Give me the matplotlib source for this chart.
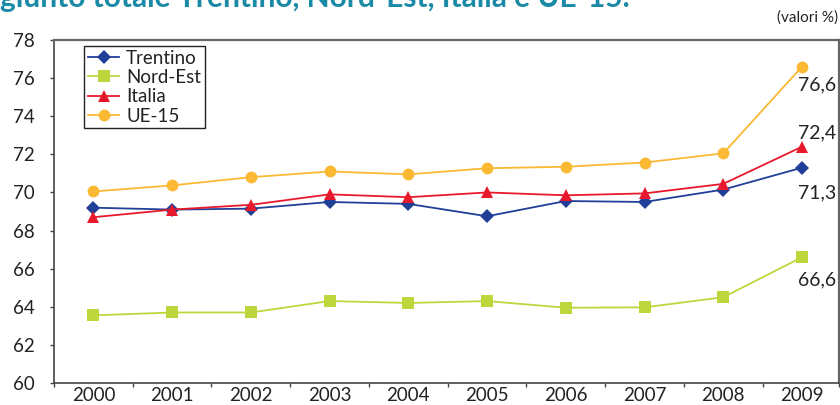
import matplotlib
matplotlib.use("Agg")
import matplotlib.pyplot as plt
import numpy as np

# Tasso di occupazione 2000-2009 (valori %)
years = ["2000", "2001", "2002", "2003", "2004", "2005", "2006", "2007", "2008", "2009"]
trentino = [69.2, 69.1, 69.15, 69.5, 69.4, 68.75, 69.55, 69.5, 70.15, 71.3]
nord_est = [63.55, 63.7, 63.7, 64.3, 64.2, 64.3, 63.95, 63.97, 64.5, 66.6]
italia = [68.7, 69.1, 69.35, 69.9, 69.75, 70.0, 69.85, 69.95, 70.45, 72.4]
ue15 = [70.05, 70.37, 70.8, 71.1, 70.95, 71.27, 71.35, 71.57, 72.05, 76.6]
y_ticks = [60, 62, 64, 66, 68, 70, 72, 74, 76, 78]

series = [
    ("Trentino", trentino, "#223f98", "D", 7.0, -18),
    ("Nord-Est", nord_est, "#bdd63c", "s", 8.0, -16),
    ("Italia", italia, "#e8192c", "^", 8.5, 10),
    ("UE-15", ue15, "#fbb833", "o", 8.5, -13),
]

FONT = ["Lato", "DejaVu Sans"]
TXT = "#222222"

fig = plt.figure(figsize=(8.4, 4.05), dpi=100)
ax = fig.add_axes([54 / 840, 1 - 383 / 405, 785 / 840, 343 / 405])

x = np.arange(len(years))
for name, vals, color, marker, ms, dy in series:
    ax.plot(x, vals, color=color, lw=1.3, marker=marker, ms=ms,
            markeredgewidth=0, label=name, zorder=3)
    ax.annotate(f"{vals[-1]:.1f}".replace(".", ","), (x[-1], vals[-1]),
                xytext=(-3, dy), textcoords="offset points",
                ha="left", va="center", fontsize=14, family=FONT, color=TXT)

ax.set_xlim(-0.5, 9.47)
ax.set_ylim(60, 78)
ax.set_yticks(y_ticks)
ax.set_yticklabels([str(v) for v in y_ticks], family=FONT, fontsize=13.5, color=TXT)

# year labels centred on categories, tick marks on the boundaries
ax.set_xticks(x)
ax.set_xticklabels(years, family=FONT, fontsize=13.5, color=TXT)
ax.tick_params(axis="x", which="major", length=0, pad=3)
ax.set_xticks(list(np.arange(-0.5, 9.0, 1.0)) + [9.47], minor=True)
ax.tick_params(axis="x", which="minor", length=3, width=1, color="#444444", direction="out")
ax.tick_params(axis="y", length=3, width=1, color="#444444", direction="out", pad=11)

for side in ["left", "bottom"]:
    ax.spines[side].set_color("#444444")
    ax.spines[side].set_linewidth(1.2)
for side in ["top", "right"]:
    ax.spines[side].set_color("#666666")
    ax.spines[side].set_linewidth(1.6)

leg = ax.legend(loc="upper left", bbox_to_anchor=(0.038, 0.9825), borderaxespad=0,
                fancybox=False, edgecolor="#222222", framealpha=1,
                prop={"family": FONT, "size": 13.5}, handlelength=1.7,
                handletextpad=0.35, labelspacing=0.12, borderpad=0.2)
leg.get_frame().set_linewidth(1.0)
for t in leg.get_texts():
    t.set_color(TXT)

fig.text(0.0, 1 - 7 / 405, "giunto totale Trentino, Nord-Est, Italia e UE-15.",
         family=FONT, fontweight="bold", fontsize=21.5, color="#1a8aa6",
         ha="left", va="baseline")
fig.text(838 / 840, 1 - 18 / 405, "(valori %)", family=FONT, fontsize=11,
         color=TXT, ha="right", va="center")

fig.savefig("out.png", dpi=100)
